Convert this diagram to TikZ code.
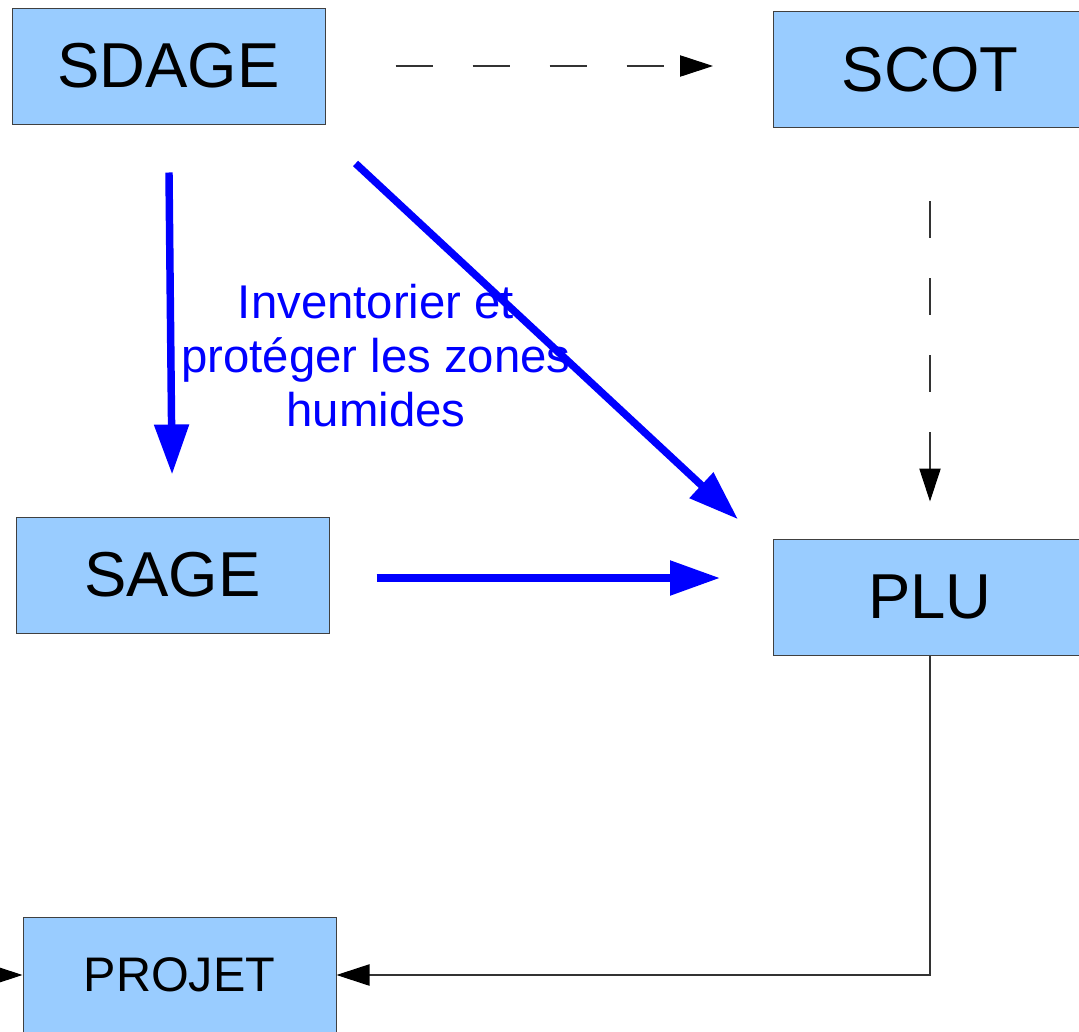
\documentclass[tikz,border=0pt]{standalone}
\usepackage{fontspec}
\setmainfont{Liberation Sans}
\usetikzlibrary{arrows.meta}
\definecolor{boxblue}{HTML}{99CCFF}
\definecolor{lineblue}{HTML}{0000FF}

\begin{document}
\begin{tikzpicture}[x = 0.75pt, y = -0.75pt,
	box/.style = {draw = black!75, line width = 0.75pt, fill = boxblue, minimum width = 234.75pt, minimum height = 87pt, inner sep = 0pt, font = \fontsize{47.6}{57}\selectfont},
	bluearr/.style = {draw = lineblue, line width = 5.6pt, -{Triangle[length = 37.5pt, width = 25pt]}},
	thinarr/.style = {draw = black!80, line width = 0.8pt, -{Triangle[length = 24.75pt, width = 16pt, black]}},
	dasharr/.style = {thinarr, dash pattern = on 27.75pt off 30pt}]
		\useasboundingbox (0,0) rectangle (1079,1032);
		\node[box] (sdage) at (168.5,66) {SDAGE};
		\node[box] (scot) at (930,69.5) {SCOT};
		\node[box] (sage) at (172.5,575) {SAGE};
		\node[box] (plu) at (930,597) {PLU};
		\node[box, font = \fontsize{36.4}{44}\selectfont] (projet) at (179.5,975) {PROJET};
		\coordinate (entree) at (-60,975);
		\node[text = lineblue, align = center, inner sep = 0pt, anchor = north, font = \fontsize{35.5}{40.5}\selectfont] (zones) at (376,284) {Inventorier et\\protéger les zones\\humides};
		% dashed links
		\draw[dasharr, shorten <= 52.5pt, shorten >= 45pt] (sdage.east) -- (sdage.east -| scot.west);
		\draw[dasharr, shorten <= 54.75pt, shorten >= 27.75pt] (scot.south) -- (plu.north);
		% blue links
		\draw[bluearr, shorten <= 36pt, shorten >= 31.5pt] (sdage.south) -- (sage.north);
		\draw[bluearr, shorten <= 30.8pt, shorten >= 35.9pt] ([yshift = -8.25pt]sdage.south east) -- ([yshift = -10pt]plu.north west);
		\draw[bluearr, shorten <= 35.25pt, shorten >= 39.75pt] ([yshift = -2.25pt]sage.east) -- ([yshift = -2.25pt]sage.east -| plu.west);
		% towards the project
		\draw[thinarr] (plu.south) |- (projet.east);
		\draw[thinarr] (entree) -- (projet.west);
\end{tikzpicture}
\end{document}
